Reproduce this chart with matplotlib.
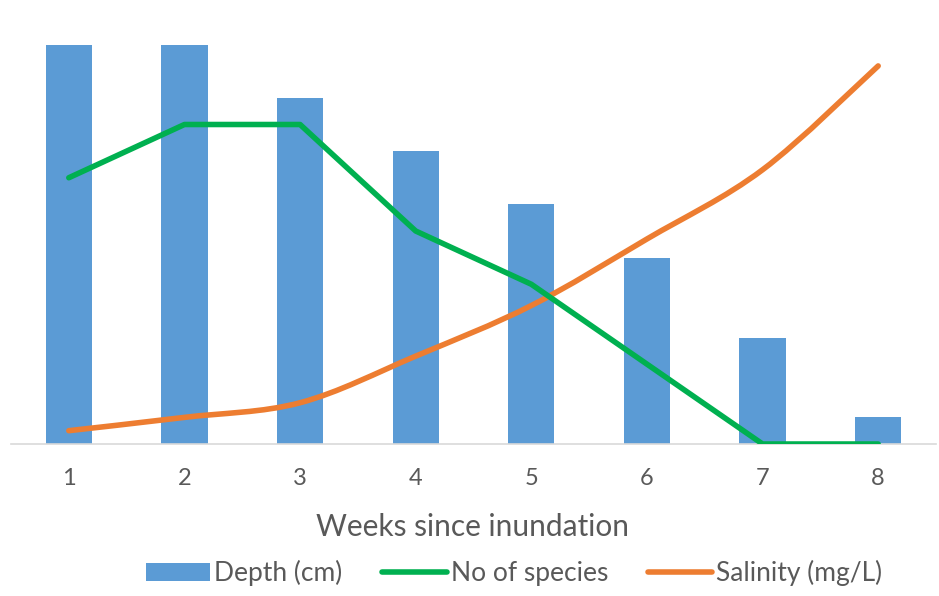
import matplotlib.pyplot as plt
import numpy as np
from matplotlib.path import Path
from matplotlib.patches import PathPatch
from matplotlib.lines import Line2D
from matplotlib.patches import Patch

weeks = [1, 2, 3, 4, 5, 6, 7, 8]
depth_cm = [15, 15, 13, 11, 9, 7, 4, 1]
no_species = [10, 12, 12, 8, 6, 3, 0, 0]
salinity = [0.5, 1.0, 1.55, 3.3, 5.2, 7.7, 10.3, 14.2]

BLUE = '#5B9BD5'
GREEN = '#00B050'
ORANGE = '#ED7D31'

plt.rcParams['font.family'] = ['Lato', 'DejaVu Sans']


def smooth_path(xs, ys):
    # Excel-style smoothed line: cubic bezier through the points
    pts = np.column_stack([xs, ys]).astype(float)
    verts = [pts[0]]
    codes = [Path.MOVETO]
    n = len(pts)
    for i in range(n - 1):
        p0 = pts[i - 1] if i > 0 else pts[i]
        p1 = pts[i]
        p2 = pts[i + 1]
        p3 = pts[i + 2] if i + 2 < n else pts[i + 1]
        c1 = p1 + (p2 - p0) / 6.0
        c2 = p2 - (p3 - p1) / 6.0
        verts += [c1, c2, p2]
        codes += [Path.CURVE4] * 3
    return Path(verts, codes)


fig = plt.figure(figsize=(9.39, 5.96), dpi=100)
ax = fig.add_axes([11 / 939, (596 - 444) / 596, 925 / 939, 426 / 596])

x = np.arange(len(weeks))
ax.bar(x, depth_cm, width=0.4, color=BLUE, zorder=1)
ax.plot(x, no_species, color=GREEN, lw=4, solid_capstyle='round',
        solid_joinstyle='round', zorder=3)
ax.add_patch(PathPatch(smooth_path(x, salinity), facecolor='none',
                       edgecolor=ORANGE, lw=4, capstyle='round', zorder=2))

ax.set_xlim(-0.5, len(weeks) - 0.5)
ax.set_ylim(0, 16)
ax.set_xticks(x)
ax.set_xticklabels([str(w) for w in weeks], fontsize=17, color='#595959')
ax.tick_params(axis='x', length=0, pad=17)
ax.set_yticks([])
for s in ['top', 'right', 'left']:
    ax.spines[s].set_visible(False)
ax.spines['bottom'].set_color('#D9D9D9')
ax.spines['bottom'].set_linewidth(1.2)

fig.text(473 / 939, 1 - 527 / 596, 'Weeks since inundation', ha='center',
         va='center', fontsize=21.5, color='#595959')

handles = [Patch(facecolor=BLUE, edgecolor='none'),
           Line2D([], [], color=GREEN, lw=4, solid_capstyle='round'),
           Line2D([], [], color=ORANGE, lw=4, solid_capstyle='round')]
labels = ['Depth (cm)', 'No of species', 'Salinity (mg/L)']
leg = fig.legend(handles, labels, loc='center', bbox_to_anchor=(514 / 939, 1 - 573 / 596),
                 ncol=3, frameon=False, fontsize=19, handlelength=2.45,
                 handleheight=0.7, handletextpad=0.15, columnspacing=1.5)
for t in leg.get_texts():
    t.set_color('#595959')

fig.savefig('out.png', dpi=100)
